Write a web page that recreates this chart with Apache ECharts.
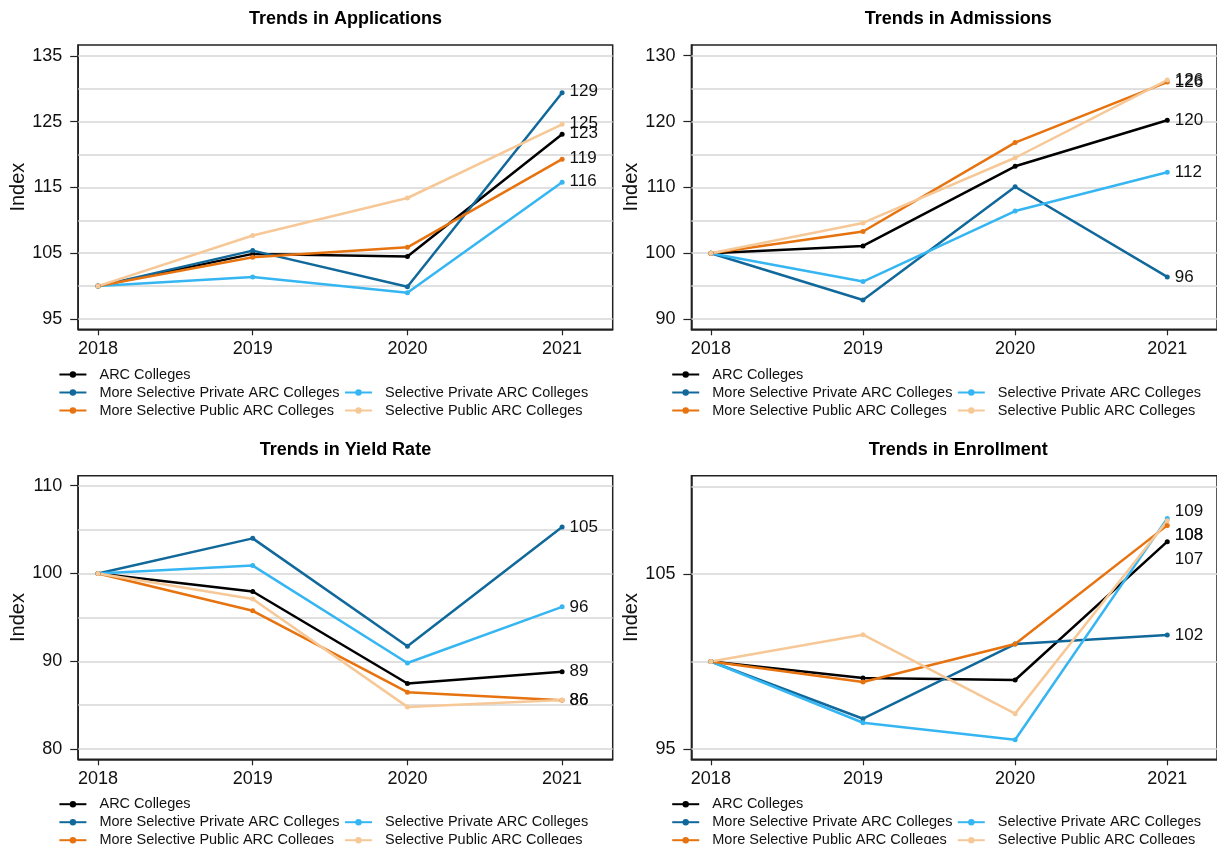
<!DOCTYPE html>
<html>
<head>
<meta charset="utf-8">
<title>Trends at ARC Colleges</title>
<script src="https://cdn.jsdelivr.net/npm/echarts@6/dist/echarts.min.js"></script>
<style>
  html, body { margin: 0; padding: 0; background: #fff; }
  #chart { width: 1217px; height: 844px; }
</style>
</head>
<body>
<div id="chart"></div>
<script>
const years = [2018, 2019, 2020, 2021];
const groups = [
    'ARC Colleges',
    'More Selective Private ARC Colleges',
    'Selective Private ARC Colleges',
    'More Selective Public ARC Colleges',
    'Selective Public ARC Colleges'
];
const colors = ['#000000', '#11699b', '#35b6f2', '#e6730f', '#f7c897'];

// index values (2018 = 100), one row per group in the order above
const applications = [
    [100, 104.9, 104.5, 123.1],
    [100, 105.4, 99.9, 129.4],
    [100, 101.4, 99.0, 115.8],
    [100, 104.4, 105.9, 119.3],
    [100, 107.7, 113.4, 124.6]
];
const admissions = [
    [100, 101.1, 113.2, 120.2],
    [100, 92.9, 110.1, 96.4],
    [100, 95.7, 106.4, 112.3],
    [100, 103.3, 116.8, 126.0],
    [100, 104.6, 114.5, 126.3]
];
const yieldRate = [
    [100, 97.95, 87.47, 88.8],
    [100, 104.0, 91.7, 105.3],
    [100, 100.9, 89.8, 96.2],
    [100, 95.75, 86.48, 85.55],
    [100, 97.1, 84.8, 85.6]
];
const enrollment = [
    [100, 99.06, 98.94, 106.85],
    [100, 96.73, 101.0, 101.51],
    [100, 96.5, 95.53, 108.18],
    [100, 98.83, 101.0, 107.78],
    [100, 101.53, 97.02, 108.05]
];

// numbers printed at the 2021 end of each line
const applicationsEnd = ['123', '129', '116', '119', '125'];
const admissionsEnd = ['120', '96', '112', '126', '126'];
const yieldEnd = ['89', '105', '96', '86', '86'];
const enrollmentEnd = ['107', '102', '109', '108', '108'];

// y tick labels and horizontal grid lines
const applicationsTicks = [95, 105, 115, 125, 135];
const admissionsTicks = [90, 100, 110, 120, 130];
const yieldTicks = [80, 90, 100, 110];
const enrollmentTicks = [95, 105];
const applicationsGrid = [95, 100, 105, 110, 115, 120, 125, 130, 135];
const admissionsGrid = [90, 95, 100, 105, 110, 115, 120, 125, 130];
const yieldGrid = [80, 85, 90, 95, 100, 105, 110];
const enrollmentGrid = [95, 100, 105, 110];

const panels = [
    { title: 'Trends in Applications', values: applications, ends: applicationsEnd,
      ticks: applicationsTicks, lines: applicationsGrid, yMin: 93.43, yMax: 136.67,
      left: 78.2, top: 45, width: 534.5, height: 284.3, legendLeft: 58.4, legendTop: 371,
      labelDy: [-1, -1, -1, -1, -1] },
    { title: 'Trends in Admissions', values: admissions, ends: admissionsEnd,
      ticks: admissionsTicks, lines: admissionsGrid, yMin: 88.44, yMax: 131.63,
      left: 691.4, top: 45, width: 533.5, height: 284.3, legendLeft: 671.2, legendTop: 371,
      labelDy: [0, 0, 0, 0, 0] },
    { title: 'Trends in Yield Rate', values: yieldRate, ends: yieldEnd,
      ticks: yieldTicks, lines: yieldGrid, yMin: 78.83, yMax: 111.14,
      left: 78.2, top: 475.7, width: 534.5, height: 283.6, legendLeft: 58.4, legendTop: 800.7,
      labelDy: [0, 0, 0, 0, 0] },
    { title: 'Trends in Enrollment', values: enrollment, ends: enrollmentEnd,
      ticks: enrollmentTicks, lines: enrollmentGrid, yMin: 94.41, yMax: 110.62,
      left: 691.4, top: 475.7, width: 533.5, height: 283.6, legendLeft: 671.2, legendTop: 800.7,
      labelDy: [17.3, 0, -6.6, 10.4, 15] }
];

// legend slot of each group: [column, row]
const legendSlots = [[0, 0], [0, 1], [1, 1], [0, 2], [1, 2]];
const ink = '#111';
const font = "'Liberation Sans', Arial, sans-serif";

let option = {
    animation: false,
    backgroundColor: '#fff',
    textStyle: { fontFamily: font },
    title: [], grid: [], xAxis: [], yAxis: [], legend: [], series: []
};

panels.forEach(function (p, i) {
    option.title.push({
        text: p.title,
        left: p.left + p.width / 2,
        top: p.top - 35,
        textAlign: 'center',
        padding: 0,
        textStyle: { fontSize: 18, fontWeight: 'bold', color: '#000', fontFamily: font }
    });
    option.grid.push({
        left: p.left, top: p.top, width: p.width, height: p.height,
        show: true, borderColor: '#222', borderWidth: 1.5
    });
    option.xAxis.push({
        type: 'value', gridIndex: i, min: 2017.872, max: 2021.327,
        axisLine: { show: true, onZero: false, lineStyle: { color: '#222', width: 1.5 } },
        axisTick: { show: true, length: 6, customValues: years, lineStyle: { color: '#222', width: 1.2 } },
        axisLabel: { customValues: years, fontSize: 18, color: ink, margin: 11,
                     formatter: function (v) { return String(v); } },
        splitLine: { show: false }
    });
    option.yAxis.push({
        type: 'value', gridIndex: i, min: p.yMin, max: p.yMax,
        name: 'Index', nameLocation: 'middle', nameGap: 48.5,
        nameTextStyle: { fontSize: 20, color: ink },
        axisLine: { show: true, onZero: false, lineStyle: { color: '#222', width: 1.5 } },
        axisTick: { show: true, length: 8, customValues: p.ticks, lineStyle: { color: '#222', width: 1.2 } },
        axisLabel: { customValues: p.ticks, fontSize: 18, color: ink, margin: 16 },
        splitLine: { show: false }
    });

    // light horizontal grid lines behind the data
    option.series.push({
        type: 'line', xAxisIndex: i, yAxisIndex: i, data: [], silent: true, z: 1,
        markLine: {
            silent: true, symbol: 'none', animation: false, z: 1,
            label: { show: false },
            lineStyle: { color: '#d6d6d6', width: 1.5, type: 'solid' },
            data: p.lines.map(function (v) { return { yAxis: v }; })
        }
    });

    groups.forEach(function (g, k) {
        let data = years.map(function (y, j) { return [y, p.values[k][j]]; });
        let last = data.length - 1;
        data[last] = {
            value: data[last],
            label: {
                show: true, position: 'right', distance: 5,
                formatter: p.ends[k], offset: [0, p.labelDy[k]],
                fontSize: 17, color: ink
            }
        };
        option.series.push({
            name: g, type: 'line', xAxisIndex: i, yAxisIndex: i,
            data: data, z: 3,
            color: colors[k],
            symbol: 'circle', symbolSize: 5,
            lineStyle: { width: 2.5, color: colors[k] },
            itemStyle: { color: colors[k] },
            label: { show: false },
            emphasis: { disabled: true }
        });

        let slot = legendSlots[k];
        option.legend.push({
            data: [g],
            left: p.legendLeft + slot[0] * 285.6,
            top: p.legendTop + slot[1] * 18 - 4,
            padding: 0,
            itemWidth: 27, itemHeight: 8,
            selectedMode: false,
            formatter: '  {name}',
            textStyle: { fontSize: 14.5, color: ink, lineHeight: 8, fontFamily: font }
        });
    });
});

let chart = echarts.init(document.getElementById('chart'));
chart.setOption(option);
</script>
</body>
</html>
